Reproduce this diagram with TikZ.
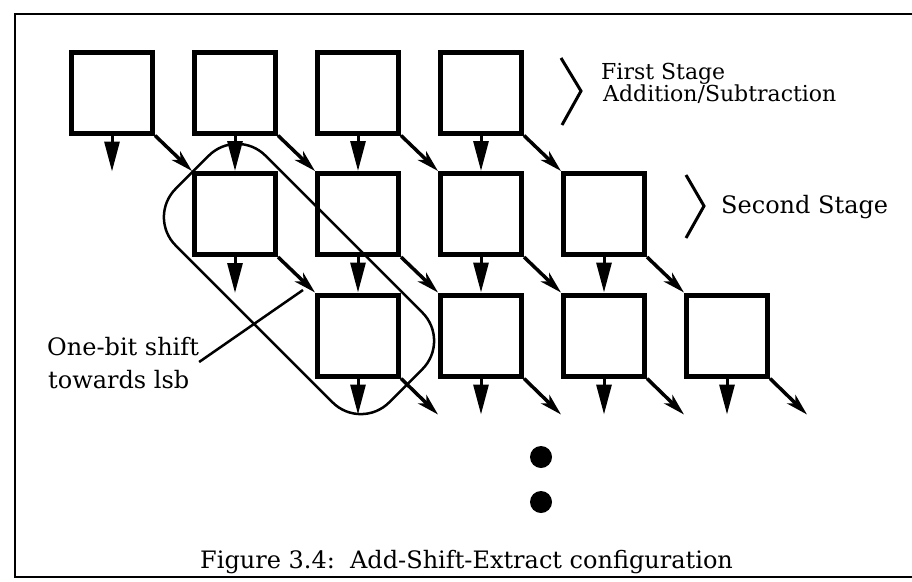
\documentclass[tikz,border=0pt]{standalone}
\usepackage{fontspec}
\setmainfont{DejaVu Serif}
\usetikzlibrary{arrows.meta, positioning, calc}

\begin{document}
\begin{tikzpicture}[x=1pt, y=-1pt,
    cell/.style={draw, line width=5pt, minimum size=81pt, inner sep=0pt},
    sum/.style={line width=3pt, -{Triangle[length=30pt, width=15pt]}},
    carry/.style={line width=3.5pt, -{Stealth[length=22pt, width=12pt, inset=6pt]}},
    txt/.style={inner sep=0pt, anchor=base west, font=\fontsize{24}{24}\selectfont}]
    \useasboundingbox (0,0) rectangle (912,581);
    \draw[line width=2.5pt] (912,14) -- (15,14) -- (15,577) -- (912,577);
    % three stages of four cells, each one shifted by a column
    \foreach \j in {0,1,2}
        \foreach \i in {0,...,3}
            \node[cell] (c-\i-\j) at ({112+123*(\i+\j)}, {92.5+121.5*\j}) {};
    \foreach \j in {0,1,2}
        \foreach \i in {0,...,3} {
            \pgfmathtruncatemacro\nj{\j+1}
            \pgfmathtruncatemacro\ni{\i-1}
            \ifnum\j<2
                \draw[carry] (c-\i-\j.south east) -- (c-\i-\nj.north west);
                \ifnum\i>0
                    \draw[sum] (c-\i-\j.south) -- (c-\ni-\nj.north);
                \else
                    \coordinate (o-\i-\j) at ($(c-\i-\j.south)+(0,36)$);
                    \draw[sum] (c-\i-\j.south) -- (o-\i-\j);
                \fi
            \else
                \coordinate (o-\i-\j) at ($(c-\i-\j.south)+(0,36)$);
                \coordinate (k-\i-\j) at ($(c-\i-\j.south east)+(37,36)$);
                \draw[sum] (c-\i-\j.south) -- (o-\i-\j);
                \draw[carry] (c-\i-\j.south east) -- (k-\i-\j);
            \fi
        }
    % the shift group
    \node[draw, line width=2.5pt, rounded corners=40pt, rotate=-45,
        minimum width=302pt, minimum height=127pt] (grp) at (299,279) {};
    \node[txt] (ob1) at (47,355) {One-bit shift};
    \node[txt] (ob2) at (48,388) {towards lsb};
    \coordinate (lead) at (303,290);
    \draw[line width=2.5pt] ($(ob1.base east)+(0,7)$) -- (lead);
    % stage brackets
    \draw[line width=3pt] (561,58) -- (581,91) -- (562,125);
    \draw[line width=3pt] (686,175) -- (704,206) -- (686,238);
    \node[txt, font=\fontsize{22}{22}\selectfont] (fs1) at (601,79) {First Stage};
    \node[txt, font=\fontsize{22}{22}\selectfont] (fs2) at (603,101) {Addition/Subtraction};
    \node[txt] (ss) at (721,213) {Second Stage};
    \fill (541,457) circle (11pt);
    \fill (541,502) circle (11pt);
    \node[txt] (cap) at (200,568) {Figure 3.4:\ \ Add-Shift-Extract configuration};
\end{tikzpicture}
\end{document}
